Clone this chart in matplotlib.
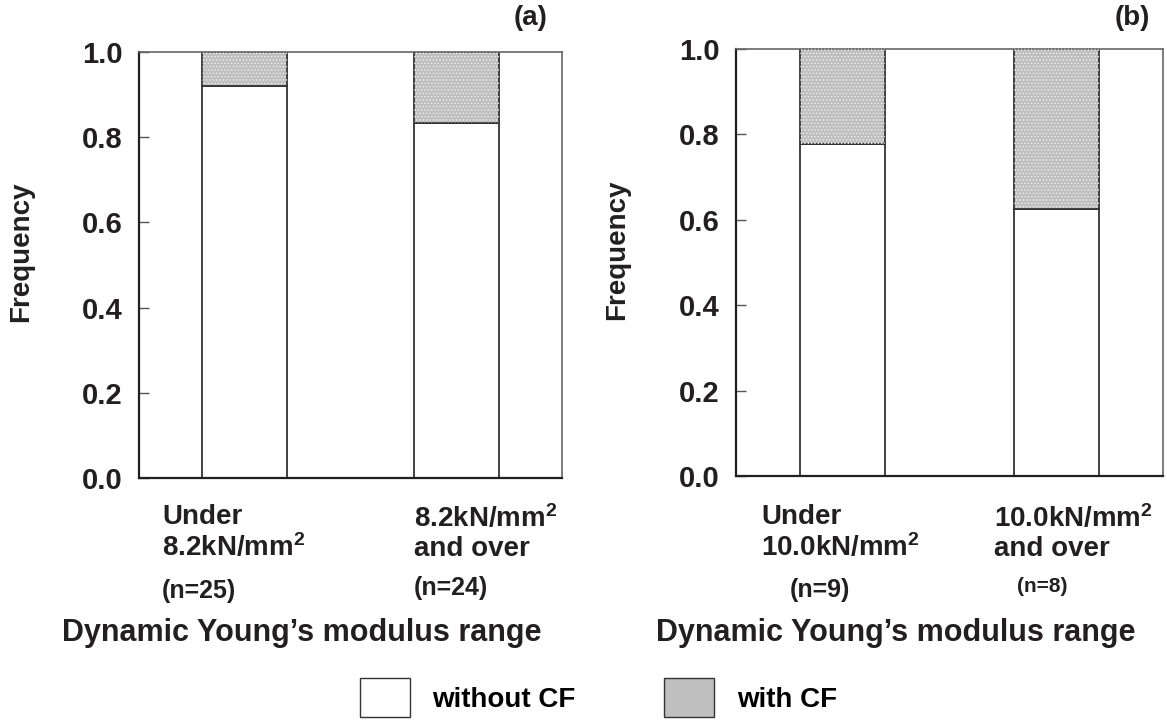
import numpy as np
import matplotlib.pyplot as plt
from matplotlib.patches import Patch

plt.rcParams['font.family'] = ['Liberation Sans', 'DejaVu Sans']
plt.rcParams['font.weight'] = 'bold'
plt.rcParams['mathtext.fontset'] = 'custom'
plt.rcParams['mathtext.rm'] = 'Liberation Sans:bold'
plt.rcParams['mathtext.bf'] = 'Liberation Sans:bold'
plt.rcParams['mathtext.default'] = 'bf'
plt.rcParams['hatch.linewidth'] = 0.6

# values (frequency of specimens without CF)
cats_a = ["Under\n8.2kN/mm$^2$", "8.2kN/mm$^2$\nand over"]
n_a = ["(n=25)", "(n=24)"]
without_a = [0.92, 0.833]

cats_b = ["Under\n10.0kN/mm$^2$", "10.0kN/mm$^2$\nand over"]
n_b = ["(n=9)", "(n=8)"]
without_b = [0.778, 0.625]

yticks = [0.0, 0.2, 0.4, 0.6, 0.8, 1.0]
ink = '#231f20'
gray_fill = '#bfbfbf'

fig = plt.figure(figsize=(11.67, 7.25), dpi=100)
ax1 = fig.add_axes([139 / 1167, 1 - 478 / 725, 423 / 1167, 426 / 725])
ax2 = fig.add_axes([736 / 1167, 1 - 476 / 725, 427 / 1167, 427 / 725])


def draw_panel(ax, without):
    x = np.arange(len(without))
    without = np.array(without)
    ax.bar(x, without, width=0.4, color='white', edgecolor='#333333', linewidth=1.3, zorder=2)
    ax.bar(x, 1 - without, bottom=without, width=0.4, color=gray_fill,
           edgecolor='#333333', linewidth=1.3, zorder=2)
    ax.bar(x, 1 - without, bottom=without, width=0.4, color='none',
           edgecolor='#eeeeee', hatch='.....', linewidth=0, zorder=3)
    ax.set_xlim(-0.5, 1.5)
    ax.set_ylim(0, 1)
    ax.set_xticks([])
    ax.set_yticks(yticks)
    ax.set_yticklabels([f"{t:.1f}" for t in yticks], fontsize=21, fontweight='bold', color=ink)
    ax.tick_params(axis='y', direction='in', length=7, width=1, color='#555555', pad=12)
    for side in ['left', 'bottom']:
        ax.spines[side].set_linewidth(1.6)
        ax.spines[side].set_color(ink)
    for side in ['top', 'right']:
        ax.spines[side].set_linewidth(1.2)
        ax.spines[side].set_color('#666666')
    ax.set_ylabel("Frequency", fontsize=20, fontweight='bold', color=ink)
    ax.yaxis.set_label_coords(-0.247, 0.53)


draw_panel(ax1, without_a)
draw_panel(ax2, without_b)

W, H = 1167, 725


def ftext(px, py, s, size, ha='left', **kw):
    fig.text(px / W, 1 - py / H, s, fontsize=size, fontweight='bold', color=ink,
             ha=ha, va='center', **kw)


# category labels
ftext(162, 533, cats_a[0], 20, linespacing=1.15)
ftext(414, 533, cats_a[1], 20, linespacing=1.15)
ftext(199, 591, n_a[0], 18, ha='center')
ftext(451, 588, n_a[1], 18, ha='center')
ftext(761, 533, cats_b[0], 20, linespacing=1.15)
ftext(994, 533, cats_b[1], 20, linespacing=1.15)
ftext(820, 590, n_b[0], 18, ha='center')
ftext(1042, 586, n_b[1], 15, ha='center')

ftext(302, 633, "Dynamic Young\u2019s modulus range", 22, ha='center')
ftext(896, 633, "Dynamic Young\u2019s modulus range", 22, ha='center')

ftext(531, 18, "(a)", 20, ha='center')
ftext(1132, 18, "(b)", 20, ha='center')

handles = [Patch(facecolor='white', edgecolor='#333333', linewidth=1),
           Patch(facecolor=gray_fill, edgecolor='#333333', linewidth=1)]
fig.legend(handles, ["without CF", "with CF"], loc='upper left',
           bbox_to_anchor=(360 / W, 1 - 678 / H), ncol=2, frameon=False,
           borderpad=0, borderaxespad=0, handlelength=1.8, handleheight=1.8,
           handletextpad=0.8, columnspacing=3.2, prop={'size': 20, 'weight': 'bold'})

fig.savefig("out.png", dpi=100)
